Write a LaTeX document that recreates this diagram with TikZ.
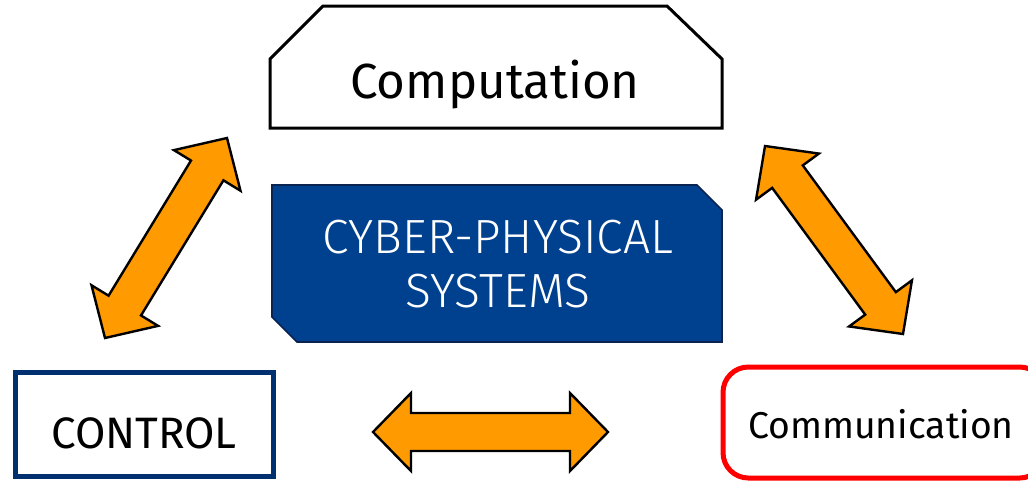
\documentclass[tikz,border=0pt]{standalone}
\usepackage{fontspec}
\setmainfont{Fira Sans}
\newfontfamily\firalight{Fira Sans Light}
\usetikzlibrary{calc}

\definecolor{cpsblue}{RGB}{0,65,143}
\definecolor{cpsedge}{RGB}{10,35,80}
\definecolor{ctrlnavy}{RGB}{0,48,112}
\definecolor{arroworange}{RGB}{255,154,0}
\definecolor{commred}{RGB}{255,0,0}

\tikzset{
  compbox/.style={draw=black, line width=2.25pt, fill=white, line join=miter},
  cpsbox/.style={draw=cpsedge, line width=1.2pt, fill=cpsblue},
  ctrlbox/.style={draw=ctrlnavy, line width=3.75pt, fill=white},
  commbox/.style={draw=commred, line width=3.75pt, rounded corners=19pt, fill=white},
  arrowbody/.style={fill=arroworange, draw=black, line width=1.8pt, line join=miter},
  label/.style={inner sep=0pt, anchor=center, text=black},
}

% double-headed block arrow between two named tips
% head length 28.5pt, half head width 29.25pt, half shaft width 14.25pt
\newcommand\blockarrow[2]{%
  \draw[arrowbody]
    (#1)
    -- ($($(#1)!28.5pt!(#2)$)!29.25pt!90:(#2)$)
    -- ($($(#1)!28.5pt!(#2)$)!14.25pt!90:(#2)$)
    -- ($($(#2)!28.5pt!(#1)$)!14.25pt!-90:(#1)$)
    -- ($($(#2)!28.5pt!(#1)$)!29.25pt!-90:(#1)$)
    -- (#2)
    -- ($($(#2)!28.5pt!(#1)$)!29.25pt!90:(#1)$)
    -- ($($(#2)!28.5pt!(#1)$)!14.25pt!90:(#1)$)
    -- ($($(#1)!28.5pt!(#2)$)!14.25pt!-90:(#2)$)
    -- ($($(#1)!28.5pt!(#2)$)!29.25pt!-90:(#2)$)
    -- cycle;}

\begin{document}
\begin{tikzpicture}[x=0.75pt, y=-0.75pt]
  \useasboundingbox (0,0) rectangle (1028,482);
  \clip (0,0) rectangle (1028,482);

  % Computation: hexagonal box with bevelled top corners
  \draw[compbox] (270,128) -- (270,59) -- (323,6) -- (667,6) -- (722,59) -- (722,128) -- cycle;
  \node[label, font=\fontsize{37}{42}\selectfont] (comp) at (495,85) {Computation};

  % central filled box
  \draw[cpsbox] (272,185) -- (697,185) -- (722,210) -- (722,342) -- (297,342) -- (272,317) -- cycle;
  \node[label, align=center, text=white, font=\firalight\fontsize{36}{41}\selectfont] (cps) at (498,264)
    {CYBER-PHYSICAL\\SYSTEMS};

  % CONTROL box
  \draw[ctrlbox] (15,372) rectangle (273,476);
  \node[label, font=\fontsize{33}{38}\selectfont] (ctrl) at (144,433) {CONTROL};

  % Communication box, running past the right edge
  \draw[commbox] (723,367) rectangle (1045,478);
  \node[label, font=\fontsize{28}{33}\selectfont] (comm) at (881,424) {Communication};

  % arrow tips
  \coordinate (l1) at (105,338);
  \coordinate (l2) at (227,138);
  \coordinate (r1) at (765,146);
  \coordinate (r2) at (903,334);
  \coordinate (h1) at (373,432);
  \coordinate (h2) at (608,432);

  \blockarrow{l1}{l2}
  \blockarrow{r1}{r2}
  \blockarrow{h1}{h2}
\end{tikzpicture}
\end{document}
